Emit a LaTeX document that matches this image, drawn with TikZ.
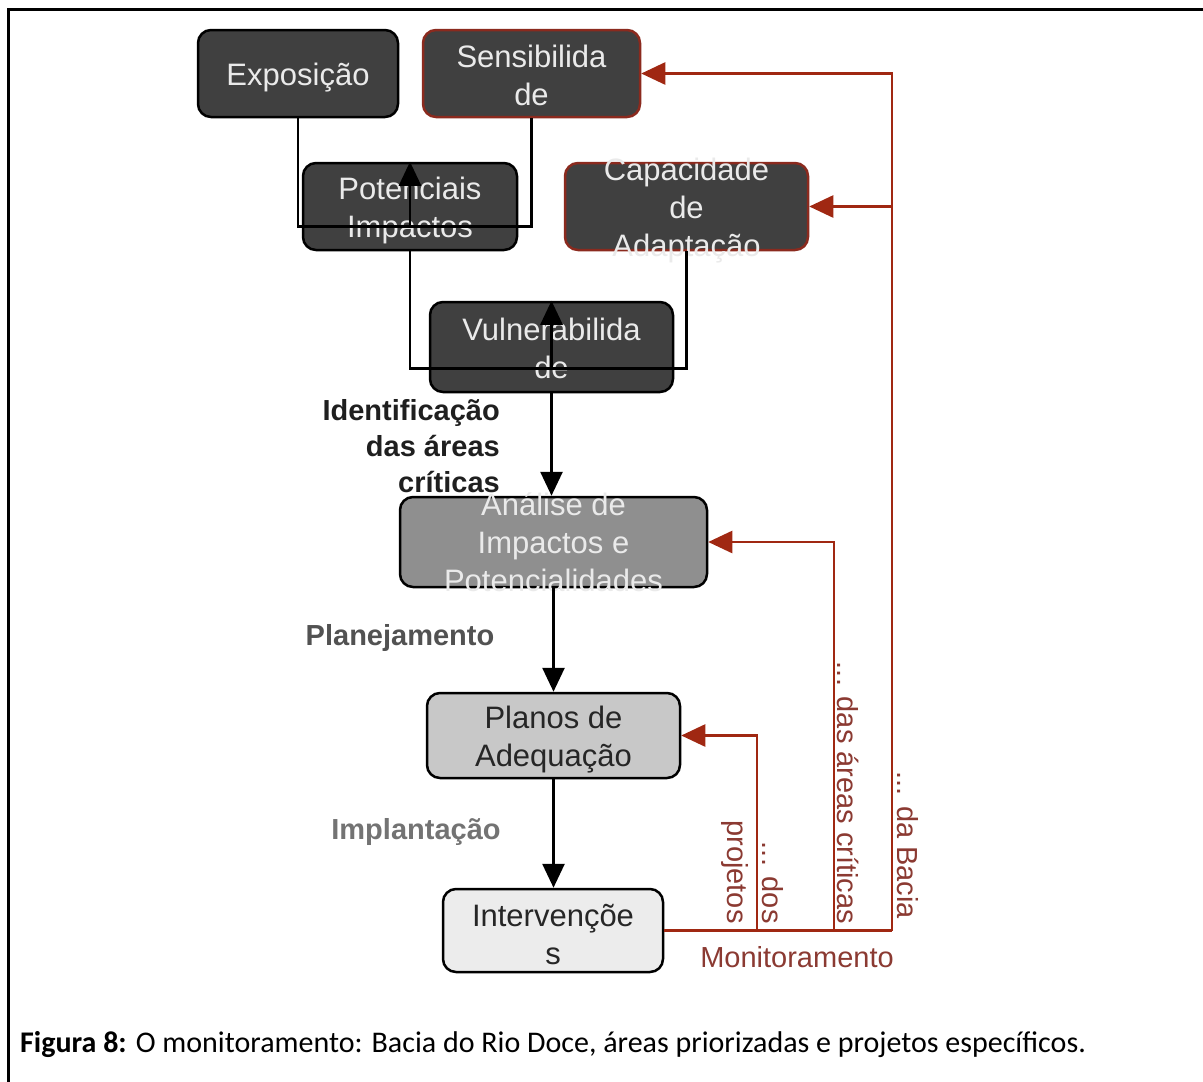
\documentclass[tikz,border=0pt]{standalone}
\usepackage{fontspec}
\setmainfont{Liberation Sans}
\newfontfamily\diagfont{Liberation Sans}
\newfontfamily\capfont{Carlito}
\usetikzlibrary{arrows.meta}
\definecolor{darkbox}{HTML}{404040}
\definecolor{midbox}{HTML}{8F8F8F}
\definecolor{lightbox}{HTML}{C8C8C8}
\definecolor{paperbox}{HTML}{ECECEC}
\definecolor{boxtxt}{HTML}{EAEAEA}
\definecolor{rustline}{HTML}{A02812}
\definecolor{rustedge}{HTML}{8B2A1E}
\definecolor{rusttxt}{HTML}{8B3A32}
\begin{document}
\begin{tikzpicture}[x=1pt,y=-1pt,
  box/.style={draw=black, line width=2.5pt, rounded corners=13pt, inner sep=0pt},
  riskbox/.style={box, draw=rustedge},
  txt/.style={inner sep=0pt, align=center, yshift=-4pt, font=\diagfont\fontsize{31}{38}\selectfont},
  lab/.style={inner sep=0pt, text=rusttxt, font=\diagfont\fontsize{29}{35}\selectfont},
  steplab/.style={inner sep=0pt, font=\diagfont\fontsize{29}{36}\selectfont\bfseries},
  conn/.style={draw=black, line width=2.7pt},
  tip/.style={-{Triangle[length=24pt,width=22pt]}},
  rline/.style={draw=rustline, line width=2.5pt},
  rtip/.style={-{Triangle[length=24pt,width=22pt]}}
]
\useasboundingbox (0,0) rectangle (1203,1082);
% outer frame (top and left rules)
\draw[line width=3pt] (8,1082) -- (8,9) -- (1203,9);

% boxes
\node[box, fill=darkbox, minimum width=200pt, minimum height=87pt] (expo) at (298,73.5) {};
\node[riskbox, fill=darkbox, minimum width=217pt, minimum height=87pt] (sens) at (531.5,73.5) {};
\node[box, fill=darkbox, minimum width=214pt, minimum height=87pt] (pot) at (410,206.5) {};
\node[riskbox, fill=darkbox, minimum width=243pt, minimum height=87pt] (cap) at (686.5,206.5) {};
\node[box, fill=darkbox, minimum width=243pt, minimum height=90pt] (vul) at (551.5,347) {};
\node[box, fill=midbox, minimum width=307pt, minimum height=90pt] (ana) at (553.5,542) {};
\node[box, fill=lightbox, minimum width=253pt, minimum height=85pt] (plan) at (553.5,735.5) {};
\node[box, fill=paperbox, minimum width=220pt, minimum height=83pt] (int) at (553,930.5) {};

% box texts
\node[txt, text=boxtxt] (expoT) at (expo) {Exposição};
\node[txt, text=boxtxt, yshift=2pt] (sensT) at (sens) {Sensibilida\\de};
\node[txt, text=boxtxt] (potT) at (pot) {Potenciais\\Impactos};
\node[txt, text=boxtxt] (capT) at (cap) {Capacidade\\de\\Adaptação};
\node[txt, text=boxtxt, yshift=3pt] (vulT) at (vul) {Vulnerabilida\\de};
\node[txt, text=boxtxt, yshift=4pt] (anaT) at (ana) {Análise de\\Impactos e\\Potencialidades};
\node[txt, text=black!85] (planT) at (plan) {Planos de\\Adequação};
\node[txt, text=black!85] (intT) at (int) {Intervençõe\\s};

% black connectors
\draw[conn] (expo.south) -- ++(0,108) coordinate (j1a) -| (sens.south);
\coordinate (j1) at (pot.north |- j1a);
\draw[conn,tip] (j1) -- (pot.north);
\draw[conn] (pot.south) -- ++(0,117) coordinate (j2a) -| (cap.south);
\coordinate (j2) at (vul.north |- j2a);
\draw[conn,tip] (j2) -- (vul.north);
\draw[conn,tip] (vul.south) -- (vul.south |- ana.north);
\draw[conn,tip] (ana.south) -- (ana.south |- plan.north);
\draw[conn,tip] (plan.south) -- (plan.south |- int.north);

% step labels
\node[steplab, text=black!88, anchor=east, align=right] (ident) at (500,446) {Identificação\\das áreas\\críticas};
\node[steplab, text=black!68] (plane) at (400,638) {Planejamento};
\node[steplab, text=black!55] (impl) at (416,832) {Implantação};

% monitoring feedback lines
\coordinate (rx1) at (757,0);
\coordinate (rx2) at (834,0);
\coordinate (rx3) at (892,0);
\draw[rline] (int.east) -- (int.east -| rx3);
\draw[rline,rtip] (int.east -| rx1) |- (plan.east);
\draw[rline,rtip] (int.east -| rx2) |- (ana.east);
\draw[rline,rtip] (int.east -| rx3) |- (sens.east);
\draw[rline,rtip] (cap.east -| rx3) -- (cap.east);

% monitoring labels
\node[lab, rotate=-90] (lbacia) at (908,845) {... da Bacia};
\node[lab, rotate=-90] (lareas) at (848,793) {... das áreas críticas};
\node[lab, rotate=-90, align=right] (lproj) at (752,872) {... dos\\projetos};
\node[lab] (lmon) at (797,957) {Monitoramento};

% caption
\node[inner sep=0pt, anchor=base west, font=\capfont\fontsize{30}{36}\selectfont] (cap8) at (20,1052) {\textbf{Figura 8:} O monitoramento: Bacia do Rio Doce, áreas priorizadas e projetos específicos.};
\end{tikzpicture}
\end{document}
